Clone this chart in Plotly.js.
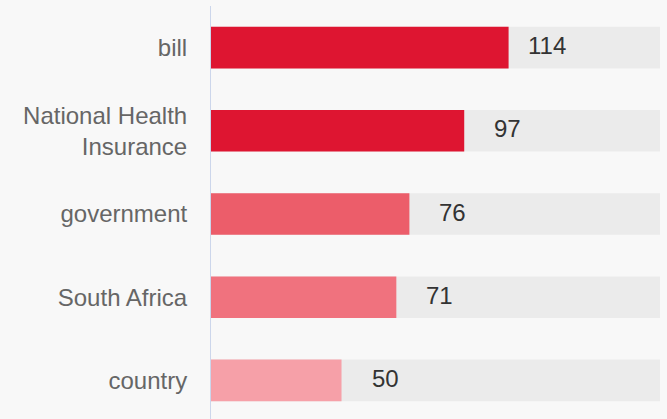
<!DOCTYPE html>
<html>
<head>
<meta charset="utf-8">
<script src="https://cdn.plot.ly/plotly-3.0.1.min.js"></script>
<style>html,body{margin:0;padding:0;background:#f8f8f8;}#chart{width:667px;height:419px;}</style>
</head>
<body>
<div id="chart"></div>
<script>
const categories = ["bill", "National Health<br>Insurance", "government", "South Africa", "country"];
const values = [114, 97, 76, 71, 50];
const trackValues = [172, 172, 172, 172, 172];
const barColors = ["#de1531", "#de1531", "#ec5d6a", "#f0727e", "#f6a0a8"];

const font = "'Liberation Sans', Arial, sans-serif";

const track = {
  type: "bar", orientation: "h",
  x: trackValues, y: categories,
  width: 0.5,
  marker: {color: "#ebebeb"},
  hoverinfo: "skip", showlegend: false
};
const bars = {
  type: "bar", orientation: "h",
  x: values, y: categories,
  width: 0.5,
  marker: {color: barColors},
  showlegend: false
};

const annotations = values.map((v, i) => ({
  x: v, y: categories[i], xref: "x", yref: "y",
  text: String(v), showarrow: false,
  xanchor: "right", yanchor: "middle", xshift: 59, yshift: 2,
  font: {family: font, size: 24, color: "#333333"}
}));

const layout = {
  width: 667, height: 419,
  margin: {l: 211, r: 7, t: 6, b: 0, pad: 0},
  paper_bgcolor: "#f8f8f8", plot_bgcolor: "#f8f8f8",
  barmode: "overlay",
  showlegend: false,
  xaxis: {range: [0, 172], visible: false, fixedrange: true},
  yaxis: {
    type: "category", categoryorder: "array", categoryarray: categories,
    range: [4.464, -0.5],
    showline: true, linecolor: "#ccd6eb", linewidth: 1,
    showgrid: false, zeroline: false, ticks: "",
    ticklabelstandoff: 18,
    tickfont: {family: font, size: 24, color: "#666666"}
  },
  annotations: annotations
};

Plotly.newPlot("chart", [track, bars], layout, {displayModeBar: false, staticPlot: true});
</script>
</body>
</html>
